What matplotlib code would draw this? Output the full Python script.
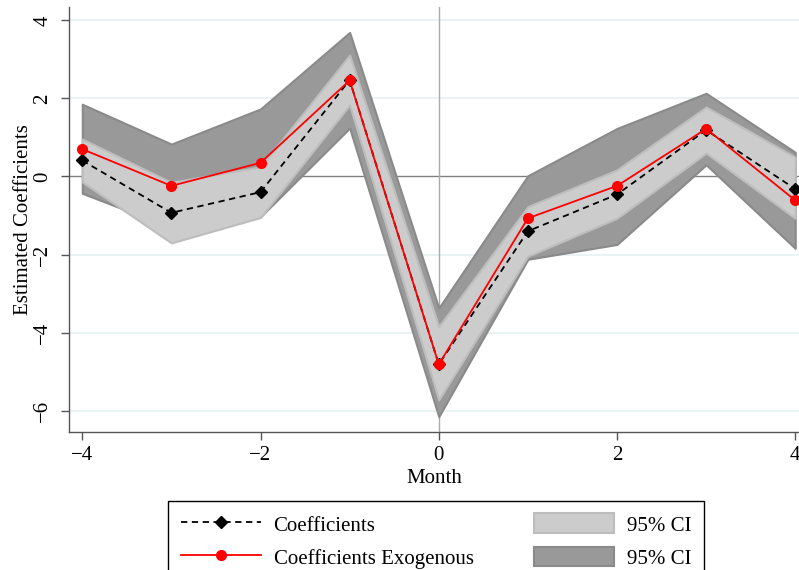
import matplotlib
matplotlib.use("Agg")
import matplotlib.pyplot as plt
from matplotlib.lines import Line2D
from matplotlib.patches import Patch

plt.rcParams['font.family'] = ['Liberation Serif', 'DejaVu Serif']
plt.rcParams['axes.unicode_minus'] = True

# --- dane ---
months = [-4, -3, -2, -1, 0, 1, 2, 3, 4]
coef = [0.41, -0.93, -0.40, 2.47, -4.81, -1.40, -0.46, 1.19, -0.32]
coef_exog = [0.70, -0.24, 0.35, 2.46, -4.81, -1.07, -0.24, 1.22, -0.61]
ci_lo = [-0.14, -1.70, -1.05, 1.83, -5.72, -2.04, -1.07, 0.60, -1.07]
ci_hi = [0.96, -0.15, 0.25, 3.11, -3.84, -0.77, 0.17, 1.78, 0.50]
ci_exog_lo = [-0.43, -1.31, -1.03, 1.24, -6.15, -2.12, -1.74, 0.30, -1.84]
ci_exog_hi = [1.85, 0.83, 1.73, 3.69, -3.37, 0.02, 1.23, 2.13, 0.62]
yticks = [-6, -4, -2, 0, 2, 4]
xticks = [-4, -2, 0, 2, 4]

LIGHT = '#cccccc'
LIGHT_EDGE = '#bdbdbd'
DARK = '#999999'
DARK_EDGE = '#8a8a8a'

fig = plt.figure(figsize=(7.99, 5.70), dpi=100)
W, H = 799, 570
ax = fig.add_axes([69 / W, 1 - 431.7 / H, 1 - 69 / W, (431.7 - 7) / H])

# siatka + linie odniesienia
for y in yticks:
    if y != 0:
        ax.axhline(y, color='#eaf2f3', lw=1.4, zorder=0)
ax.axhline(0, color='#808080', lw=1.0, zorder=0.5)
ax.axvline(0, color='#aaaaaa', lw=1.0, zorder=0.5)

# przedziały ufności
ax.fill_between(months, ci_exog_lo, ci_exog_hi, facecolor=DARK,
                edgecolor=DARK_EDGE, lw=1.5, zorder=1)
ax.fill_between(months, ci_lo, ci_hi, facecolor=LIGHT,
                edgecolor=LIGHT_EDGE, lw=1.5, zorder=2)

# współczynniki
ax.plot(months, coef, color='black', ls=(0, (3.5, 2.5)), lw=1.3,
        marker='D', ms=6.5, zorder=3)
ax.plot(months, coef_exog, color='red', ls='-', lw=1.3,
        marker='o', ms=7, zorder=4)

ax.set_xlim(-4.149, 4.042)
ax.set_ylim(-6.535, 4.34)
ax.set_xticks(xticks)
ax.set_yticks(yticks)
ax.set_xticklabels([f"{v}".replace('-', '\u2212') for v in xticks])
ax.set_yticklabels([f"{v}".replace('-', '\u2212') for v in yticks],
                   rotation=90, va='center')

for s in ['top', 'right']:
    ax.spines[s].set_visible(False)
for s in ['left', 'bottom']:
    ax.spines[s].set_color('#555555')
    ax.spines[s].set_linewidth(1.0)
ax.tick_params(axis='both', direction='out', length=6, width=1.0,
               color='#555555', labelsize=15, pad=4)
ax.tick_params(axis='y', pad=6)

ax.set_xlabel('Month', fontsize=15, labelpad=3)
ax.set_ylabel('Estimated Coefficients', fontsize=15, labelpad=0)

# legenda
handles = [
    Line2D([], [], color='black', ls=(0, (3.5, 2.5)), lw=1.3, marker='D', ms=6.5),
    Line2D([], [], color='red', ls='-', lw=1.3, marker='o', ms=7),
    Patch(facecolor=LIGHT, edgecolor=LIGHT_EDGE, lw=1.5),
    Patch(facecolor=DARK, edgecolor=DARK_EDGE, lw=1.5),
]
labels = ['Coefficients', 'Coefficients Exogenous', '95% CI', '95% CI']
leg = fig.legend(handles, labels, ncol=2, loc='upper left',
                 bbox_to_anchor=(168 / W, 1 - 501 / H), borderaxespad=0,
                 fontsize=15, frameon=True, fancybox=False, framealpha=1,
                 edgecolor='black', handlelength=3.85, handleheight=1.09,
                 handletextpad=0.62, labelspacing=0.53, columnspacing=2.9,
                 borderpad=0.6)
leg.get_frame().set_linewidth(1.0)

fig.savefig('out.png', dpi=100)
